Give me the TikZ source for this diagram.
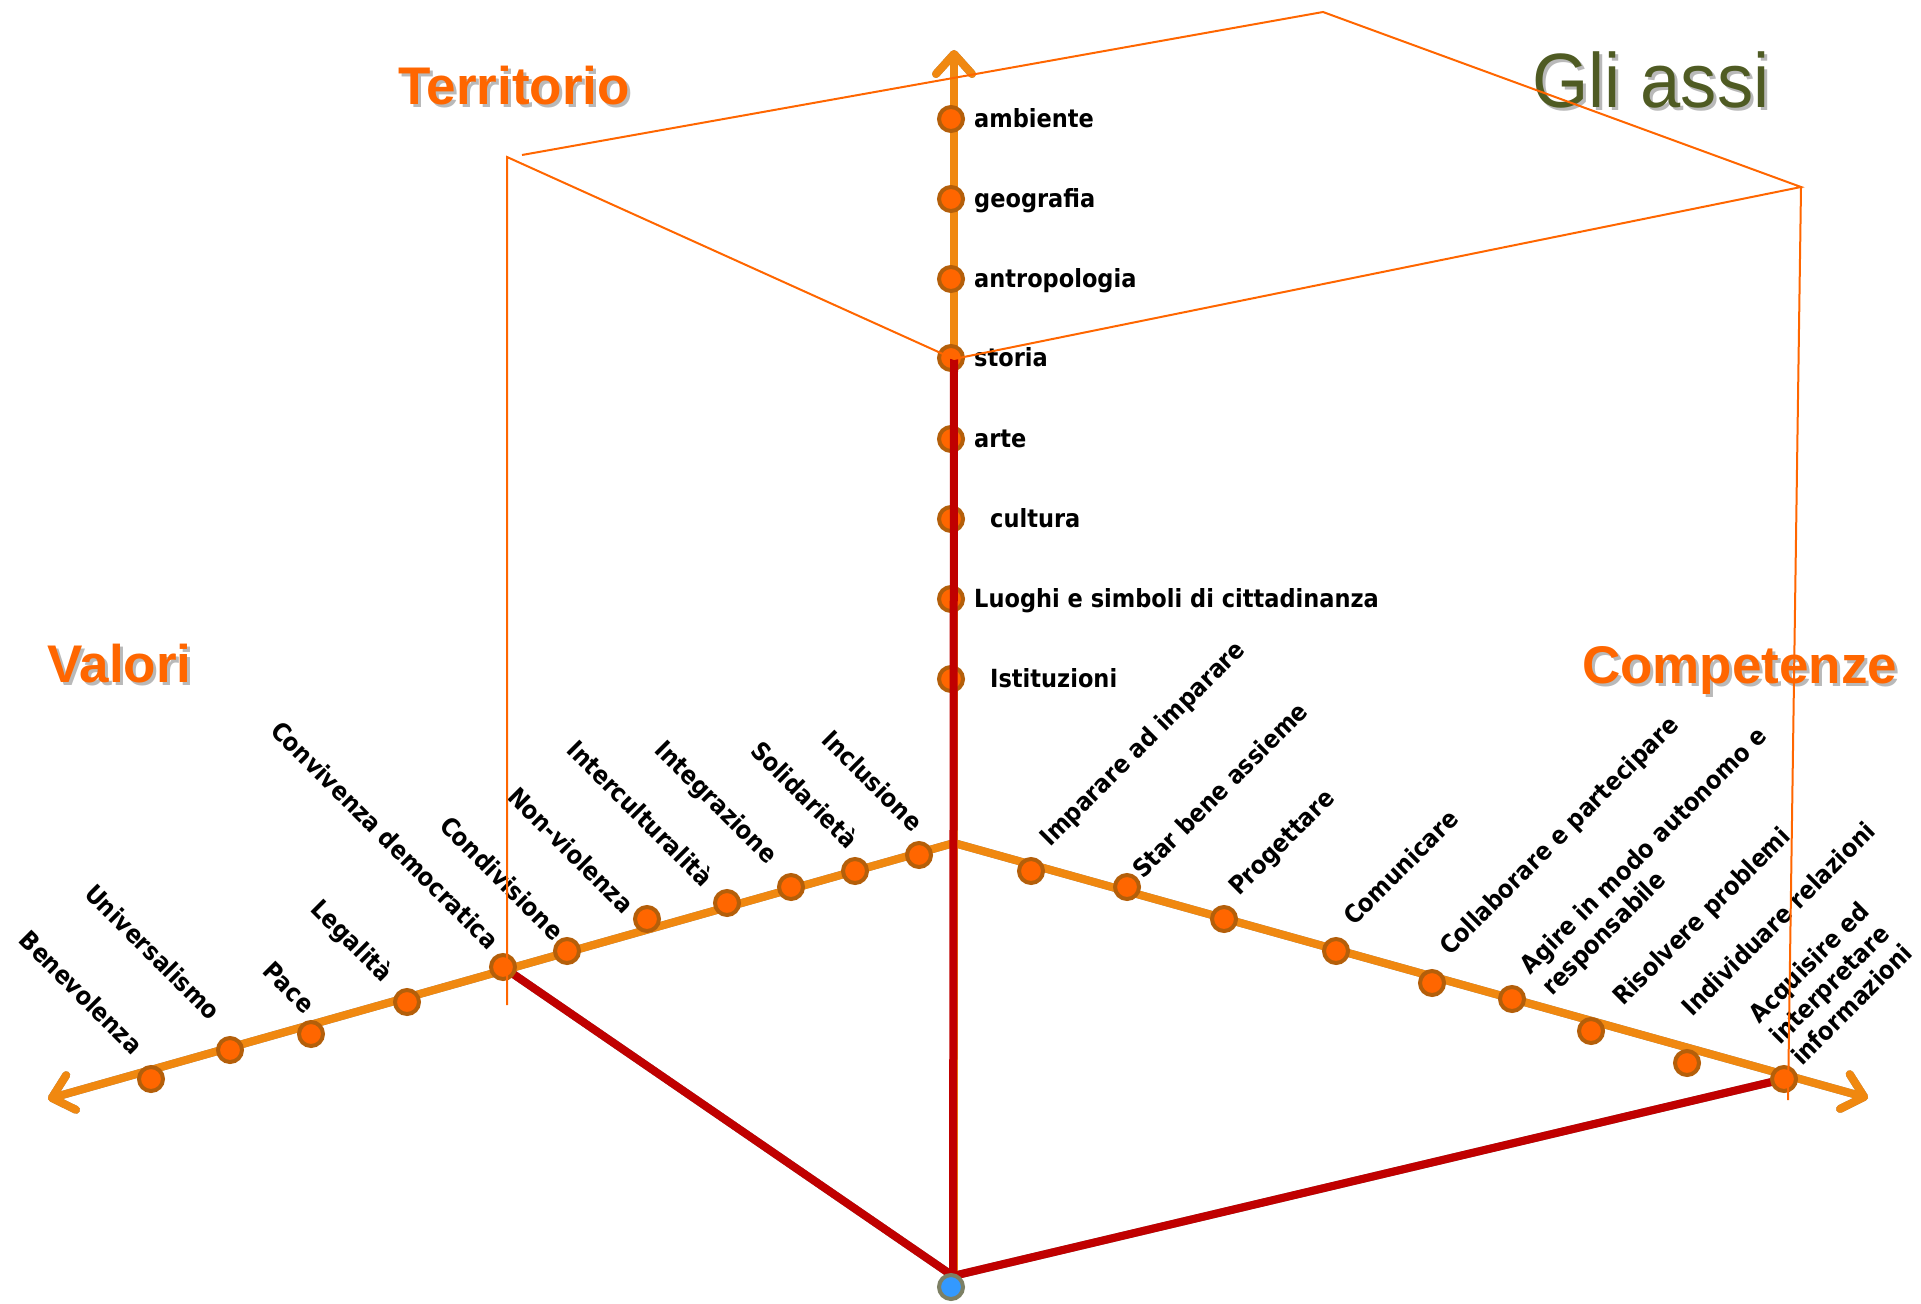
\documentclass[tikz,border=0pt]{standalone}
\usepackage{fontspec}
\setmainfont{DejaVu Sans}[FakeStretch=0.9]
\newfontfamily\titlefont{Liberation Sans}
\usetikzlibrary{arrows.meta}
\definecolor{axisor}{RGB}{240,136,16}
\definecolor{dotfill}{RGB}{255,102,0}
\definecolor{dotborder}{RGB}{180,95,10}
\definecolor{boxor}{RGB}{255,102,0}
\definecolor{axred}{RGB}{192,0,0}
\definecolor{olive}{RGB}{79,91,35}
\definecolor{shadowgray}{RGB}{140,140,140}
\definecolor{tshadow}{RGB}{185,185,185}
\definecolor{bluefill}{RGB}{51,153,255}
\definecolor{blueborder}{RGB}{125,128,100}
\begin{document}
\begin{tikzpicture}[x=1pt,y=-1pt,
  lbl/.style={font=\fontsize{25}{30}\selectfont\bfseries, inner sep=0pt, align=left},
  lblL/.style={lbl, rotate=-45, anchor=base east},
  lblR/.style={lbl, rotate=45, anchor=base west},
  lblV/.style={lbl, anchor=base west},
  dot/.style={circle, fill=dotfill, draw=dotborder, line width=4pt, minimum size=24pt, inner sep=0pt},
  origindot/.style={circle, fill=bluefill, draw=blueborder, line width=4pt, minimum size=24pt, inner sep=0pt},
  barb/.style={-{Straight Barb[length=20pt,width=36pt,line cap=round,line join=round]}},
  axisline/.style={draw=axisor, line width=8pt, barb},
  axisshadow/.style={draw=shadowgray, line width=8pt, barb, shift={(-2,3)}},
  redline/.style={draw=axred, line width=8pt},
  redshadow/.style={draw=shadowgray, line width=8pt, shift={(-2,3)}},
  boxline/.style={draw=boxor, line width=2pt},
  ttl/.style={font=\titlefont\fontsize{53}{60}\selectfont\bfseries, inner sep=0pt, anchor=base west},
]
\path[use as bounding box] (0,0) rectangle (1921,1303);

% key coordinates
\coordinate (hub) at (954,843);
\coordinate (tipL) at (48,1099);
\coordinate (tipR) at (1868,1098);
\coordinate (tipV) at (954,50);
\coordinate (O) at (953,1276);
\coordinate (vbot) at (954,1276);

% left axis
\path (151,1079) coordinate (cBen)
      (230,1050) coordinate (cUni)
      (311,1034) coordinate (cPac)
      (407,1002) coordinate (cLeg)
      (503,967)  coordinate (cCon)
      (567,951)  coordinate (cCond)
      (647,919)  coordinate (cNon)
      (727,903)  coordinate (cInt)
      (791,887)  coordinate (cIntg)
      (855,871)  coordinate (cSol)
      (919,855)  coordinate (cInc);
% right axis
\path (1031,871) coordinate (cImp)
      (1127,887) coordinate (cSta)
      (1224,919) coordinate (cPro)
      (1336,951) coordinate (cCom)
      (1432,983) coordinate (cColl)
      (1512,999) coordinate (cAgi)
      (1591,1031) coordinate (cRis)
      (1687,1063) coordinate (cInd)
      (1784,1079) coordinate (cAcq);
% vertical axis
\path (951,119) coordinate (cAmb)
      (951,199) coordinate (cGeo)
      (951,279) coordinate (cAnt)
      (951,358) coordinate (cSto)
      (951,439) coordinate (cArt)
      (951,519) coordinate (cCul)
      (951,599) coordinate (cLuo)
      (951,679) coordinate (cIst);
\coordinate (sto) at (954,359);

% shadows
\draw[axisshadow] (hub) -- (tipL);
\draw[axisshadow] (hub) -- (tipR);
\draw[axisshadow] (vbot) -- (tipV);
\draw[redshadow] (cCon) -- (O);
\draw[redshadow] (cAcq) -- (O);

% orange axes
\draw[axisline] (hub) -- (tipL);
\draw[axisline] (hub) -- (tipR);
\draw[axisline] (vbot) -- (tipV);

% red lines
\draw[redline] (cCon) -- (O);
\draw[redline] (cAcq) -- (O);

% dots
\foreach \c/\n in {cBen/dBen,cUni/dUni,cPac/dPac,cLeg/dLeg,cCon/dCon,cCond/dCond,cNon/dNon,cInt/dInt,cIntg/dIntg,cSol/dSol,cInc/dInc,
  cImp/dImp,cSta/dSta,cPro/dPro,cCom/dCom,cColl/dColl,cAgi/dAgi,cRis/dRis,cInd/dInd,cAcq/dAcq,
  cAmb/dAmb,cGeo/dGeo,cAnt/dAnt,cSto/dSto,cArt/dArt,cCul/dCul,cLuo/dLuo,cIst/dIst}
  \node[dot] (\n) at (\c) {};

% red vertical
\draw[redline] (sto) -- (O);

% origin
\node[origindot] (orig) at (951,1287) {};

% vertical labels
\node[lblV] (lAmb) at (974,127.5) {ambiente};
\node[lblV] (lGeo) at (974,207.5) {geografia};
\node[lblV] (lAnt) at (974,287.5) {antropologia};
\node[lblV] (lSto) at (974,366.5) {storia};
\node[lblV] (lArt) at (974,447.5) {arte};
\node[lblV] (lCul) at (990,527.5) {cultura};
\node[lblV] (lLuo) at (974,607.5) {Luoghi e simboli di cittadinanza};
\node[lblV] (lIst) at (990,687.5) {Istituzioni};

% left labels
\node[lblL] (lInc) at (912,833) {Inclusione};
\node[lblL] (lSol) at (847,850) {Solidarietà};
\node[lblL] (lIntg) at (767,865) {Integrazione};
\node[lblL] (lInt) at (702,888) {Interculturalità};
\node[lblL] (lNon) at (623,915) {Non-violenza};
\node[lblL] (lCond) at (553,942) {Condivisione};
\node[lblL] (lCon) at (488,951) {Convivenza democratica};
\node[lblL] (lLeg) at (382,983) {Legalità};
\node[lblL] (lPac) at (304,1015) {Pace};
\node[lblL] (lUni) at (210,1022) {Universalismo};
\node[lblL] (lBen) at (132,1056) {Benevolenza};

% right labels (multi-line: anchor on last line)
\node[lblR] (lImp) at (1050,848) {Imparare ad imparare};
\node[lblR] (lSta) at (1143,880) {Star bene assieme};
\node[lblR] (lPro) at (1239,897) {Progettare};
\node[lblR] (lCom) at (1354,927) {Comunicare};
\node[lblR] (lColl) at (1450,957) {Collaborare e partecipare};
\node[lblR] (lAgi) at (1552,997) {Agire in modo autonomo e\\responsabile};
\node[lblR] (lRis) at (1623,1007) {Risolvere problemi};
\node[lblR] (lInd) at (1692,1018) {Individuare relazioni};
\node[lblR] (lAcq) at (1802,1067) {Acquisire ed\\interpretare\\informazioni};

% titles
\node[ttl, text=tshadow] (sTer) at (401,108) {Territorio};
\node[ttl, text=boxor] (tTer) at (398,105) {Territorio};
\node[ttl, text=tshadow] (sVal) at (50,685) {Valori};
\node[ttl, text=boxor] (tVal) at (47,682) {Valori};
\node[ttl, text=tshadow] (sCom) at (1585,686) {Competenze};
\node[ttl, text=boxor] (tCom) at (1582,683) {Competenze};
\node[ttl, font=\titlefont\fontsize{77}{80}\selectfont, xscale=0.94, text=tshadow] (sGli) at (1535,111) {Gli assi};
\node[ttl, font=\titlefont\fontsize{77}{80}\selectfont, xscale=0.94, text=olive] (tGli) at (1532,108) {Gli assi};

% box
\coordinate (bTL) at (507,157);
\coordinate (bTL2) at (522,155);
\coordinate (bBack) at (1323,12);
\coordinate (bTR) at (1801,187);
\coordinate (bBR) at (1788,1100);
\coordinate (bBL) at (507,1005);
\draw[boxline] (bBL) -- (bTL) -- (sto);
\draw[boxline] (bTL2) -- (bBack) -- (bTR) -- (sto);
\draw[boxline] (bTR) -- (bBR);
\end{tikzpicture}
\end{document}
